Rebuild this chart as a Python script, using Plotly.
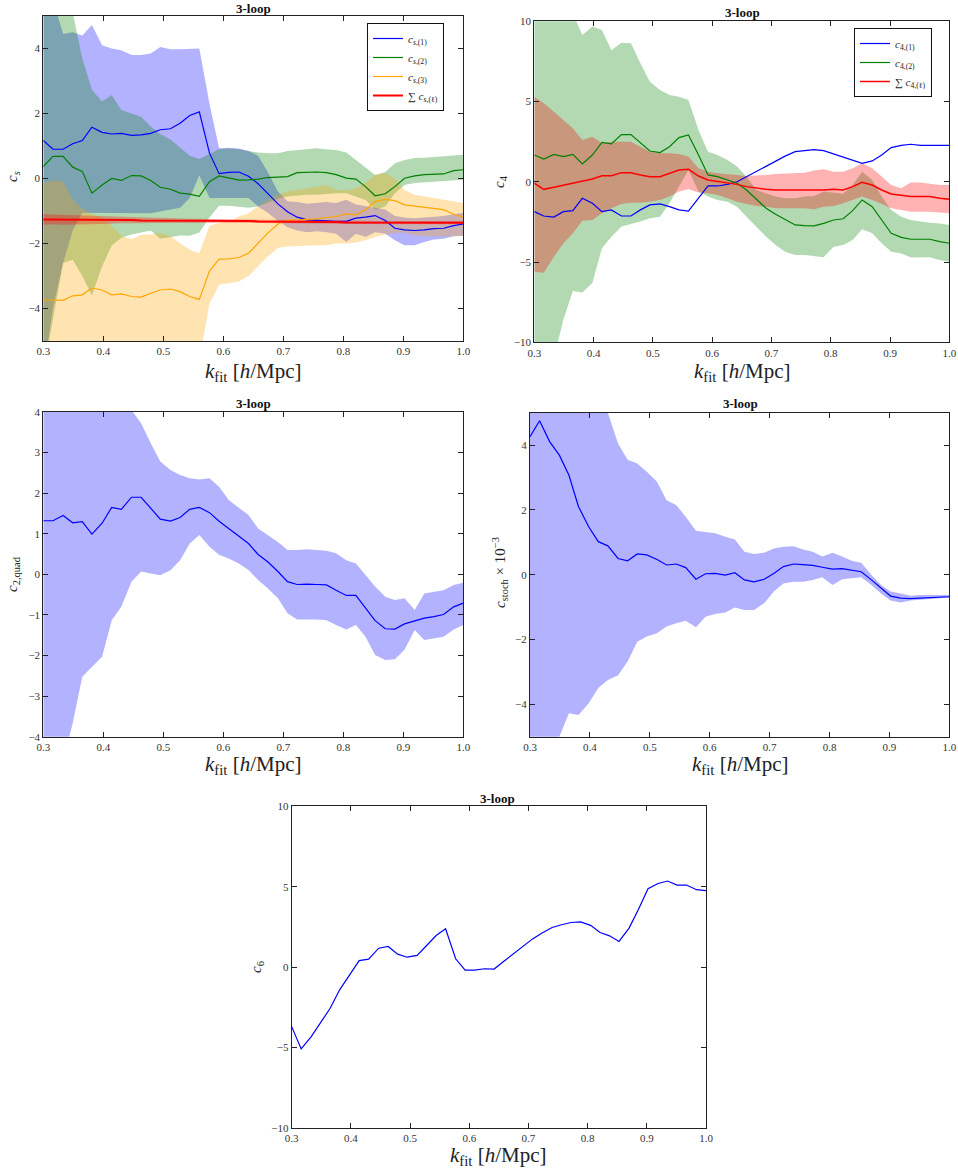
import plotly.graph_objects as go

W, H = 958, 1170
SERIF = "Liberation Serif"

# ---------------- data ----------------
k = [0.300, 0.316, 0.333, 0.349, 0.365, 0.381, 0.398, 0.414, 0.430, 0.447, 0.463,
     0.479, 0.495, 0.512, 0.528, 0.544, 0.560, 0.577, 0.593, 0.609, 0.626, 0.642,
     0.658, 0.674, 0.691, 0.707, 0.723, 0.740, 0.756, 0.772, 0.788, 0.805, 0.821,
     0.837, 0.853, 0.870, 0.886, 0.902, 0.919, 0.935, 0.951, 0.967, 0.984, 1.000]

# panel 1: c_s
cs1 = [1.17, 0.90, 0.90, 1.07, 1.17, 1.58, 1.42, 1.37, 1.39, 1.33, 1.34, 1.39, 1.50, 1.53, 1.70,
       1.94, 2.05, 0.78, 0.15, 0.19, 0.20, 0.07, -0.16, -0.46, -0.78, -1.02, -1.19, -1.27, -1.29,
       -1.32, -1.32, -1.32, -1.22, -1.19, -1.14, -1.29, -1.53, -1.58, -1.60, -1.58, -1.54, -1.53,
       -1.45, -1.40]
cs1_hi = [6.0, 5.5, 4.45, 4.5, 4.4, 4.72, 4.1, 4.0, 3.95, 3.8, 3.8, 3.85, 4.05, 3.98, 3.98, 3.98,
          4.0, 2.3, 0.93, 0.95, 0.92, 0.85, 0.7, 0.2, -0.4, -0.7, -0.72, -0.78, -0.75, -0.72,
          -0.75, -0.65, -0.8, -0.85, -0.88, -0.95, -1.15, -1.2, -1.22, -1.2, -1.18, -1.15, -1.1,
          -1.05]
cs1_lo = [-6.0, -4.0, -2.6, -1.6, -1.05, -1.05, -1.05, -1.07, -1.07, -1.07, -1.07, -1.07, -1.0,
          -0.95, -0.9, -0.6, 0.1, -0.6, -0.58, -0.6, -0.6, -0.6, -0.86, -1.05, -1.3, -1.5, -1.6,
          -1.65, -1.62, -1.65, -1.7, -1.95, -1.7, -1.8, -1.65, -1.7, -1.9, -2.05, -2.05, -1.95,
          -1.88, -1.85, -1.78, -1.76]
cs2 = [0.37, 0.68, 0.68, 0.35, 0.22, -0.45, -0.2, 0.0, -0.06, 0.09, 0.08, -0.06, -0.27, -0.33,
       -0.45, -0.48, -0.55, -0.1, 0.08, 0.01, -0.05, -0.04, -0.02, 0.03, 0.05, 0.06, 0.18, 0.2,
       0.2, 0.18, 0.12, 0.01, -0.02, -0.25, -0.53, -0.47, -0.25, 0.01, 0.08, 0.12, 0.12, 0.14,
       0.24, 0.27]
cs2_hi = [6.5, 6.0, 5.5, 5.1, 3.7, 2.73, 2.37, 2.57, 2.11, 2.0, 1.9, 1.6, 1.36, 1.2, 0.95, 0.7,
          0.6, 0.75, 0.9, 0.92, 0.9, 0.85, 0.8, 0.78, 0.78, 0.85, 0.88, 0.92, 0.93, 0.9, 0.88,
          0.8, 0.57, 0.32, 0.11, 0.2, 0.47, 0.57, 0.63, 0.64, 0.66, 0.68, 0.7, 0.73]
cs2_lo = [-6.0, -4.3, -2.6, -2.5, -3.0, -3.6, -2.7, -2.07, -1.82, -1.72, -1.65, -1.6, -1.85,
          -1.8, -1.75, -1.76, -1.66, -1.2, -0.84, -0.84, -0.86, -0.9, -0.86, -0.75, -0.62,
          -0.55, -0.52, -0.5, -0.5, -0.48, -0.45, -0.45, -0.55, -0.66, -0.96, -0.86, -0.45,
          -0.2, -0.14, -0.12, -0.1, -0.08, -0.06, -0.04]
cs3 = [-3.73, -3.75, -3.75, -3.61, -3.58, -3.37, -3.43, -3.58, -3.55, -3.63, -3.65, -3.53,
       -3.43, -3.40, -3.48, -3.63, -3.72, -2.85, -2.48, -2.47, -2.43, -2.30, -2.00, -1.68,
       -1.40, -1.28, -1.27, -1.26, -1.24, -1.20, -1.17, -1.09, -1.12, -0.96, -0.71, -0.64,
       -0.68, -0.81, -0.85, -0.90, -0.94, -0.96, -1.10, -1.19]
cs3_hi = [-0.15, -0.05, -0.1, -0.64, -0.94, -1.1, -1.2, -1.46, -1.76, -1.87, -1.73, -1.72,
          -1.68, -1.78, -1.99, -2.19, -2.3, -1.45, -1.37, -1.33, -1.17, -1.07, -0.86, -0.66,
          -0.5, -0.4, -0.35, -0.3, -0.25, -0.2, -0.35, -0.35, -0.3, -0.14, 0.11, 0.16, 0.0,
          -0.35, -0.5, -0.55, -0.6, -0.65, -0.7, -0.75]
cs3_lo = [-6.0, -6.0, -6.0, -6.0, -6.0, -6.0, -6.0, -6.0, -6.0, -6.0, -6.0, -6.0, -6.0, -6.0,
          -6.0, -6.0, -5.6, -3.84, -3.27, -3.22, -3.17, -3.0, -2.7, -2.4, -2.14, -2.09, -2.08,
          -2.07, -2.05, -2.05, -2.0, -2.0, -1.97, -1.9, -1.8, -1.72, -1.68, -1.66, -1.75, -1.78,
          -1.78, -1.78, -1.78, -1.78]
cs_sum = [-1.26, -1.26, -1.27, -1.27, -1.27, -1.28, -1.28, -1.28, -1.28, -1.28, -1.29, -1.29,
          -1.29, -1.29, -1.29, -1.30, -1.30, -1.30, -1.30, -1.31, -1.31, -1.31, -1.32, -1.32,
          -1.32, -1.33, -1.33, -1.33, -1.34, -1.34, -1.34, -1.35, -1.35, -1.35, -1.36, -1.36,
          -1.37, -1.37, -1.37, -1.37, -1.36, -1.36, -1.36, -1.36]
cs_sum_hi = [-1.10, -1.11, -1.12, -1.13, -1.14, -1.15, -1.16, -1.17, -1.18, -1.19, -1.20, -1.21,
             -1.22, -1.23, -1.23, -1.24, -1.24, -1.25, -1.25, -1.26, -1.26, -1.26, -1.27, -1.27,
             -1.27, -1.28, -1.28, -1.28, -1.29, -1.29, -1.29, -1.30, -1.30, -1.30, -1.31, -1.31,
             -1.32, -1.32, -1.32, -1.32, -1.31, -1.31, -1.31, -1.31]
cs_sum_lo = [-1.42, -1.41, -1.42, -1.41, -1.40, -1.41, -1.40, -1.39, -1.38, -1.37, -1.38, -1.37,
             -1.36, -1.35, -1.35, -1.36, -1.36, -1.35, -1.35, -1.36, -1.36, -1.36, -1.37, -1.37,
             -1.37, -1.38, -1.38, -1.38, -1.39, -1.39, -1.39, -1.40, -1.40, -1.40, -1.41, -1.41,
             -1.42, -1.42, -1.42, -1.42, -1.41, -1.41, -1.41, -1.41]

# panel 2: c_4
c41 = [-1.86, -2.13, -2.20, -1.86, -1.80, -1.03, -1.34, -1.86, -1.75, -2.13, -2.13, -1.75,
       -1.44, -1.38, -1.55, -1.75, -1.82, -1.03, -0.26, -0.26, -0.16, 0.0, 0.32, 0.63, 0.95,
       1.26, 1.60, 1.88, 1.94, 2.00, 1.94, 1.73, 1.57, 1.36, 1.15, 1.30, 1.67, 2.13, 2.27, 2.34,
       2.27, 2.27, 2.27, 2.27]
c42 = [1.67, 1.42, 1.71, 1.57, 1.71, 1.11, 1.67, 2.46, 2.36, 2.94, 2.94, 2.40, 1.92, 1.82, 2.19,
       2.75, 2.92, 1.67, 0.43, 0.32, 0.11, -0.09, -0.51, -1.09, -1.65, -2.02, -2.32, -2.69,
       -2.73, -2.75, -2.59, -2.38, -2.30, -1.80, -1.13, -1.55, -2.38, -3.21, -3.46, -3.58,
       -3.58, -3.58, -3.73, -3.83]
c42_hi = [12.0, 12.0, 12.0, 11.0, 10.5, 9.15, 9.67, 9.46, 8.2, 8.67, 8.63, 7.38, 6.24, 5.72,
          5.41, 5.3, 5.1, 3.23, 1.88, 1.67, 1.36, 0.95, 0.32, -0.51, -0.72, -0.92, -1.03, -1.03,
          -0.92, -0.88, -0.61, -0.7, -0.74, -0.2, 0.63, 0.11, -0.92, -1.76, -2.17, -2.38, -2.48,
          -2.55, -2.6, -2.69]
c42_lo = [-12.0, -12.0, -11.0, -8.6, -6.8, -6.9, -6.3, -4.14, -3.42, -2.79, -2.63, -2.48, -2.27,
          -2.17, -1.34, -0.3, 0.73, -0.6, -0.92, -1.13, -1.24, -1.55, -2.17, -2.79, -3.42,
          -3.94, -4.36, -4.56, -4.56, -4.62, -4.7, -4.04, -3.94, -3.63, -2.96, -3.21, -3.83,
          -4.36, -4.46, -4.72, -4.7, -4.7, -4.88, -4.98]
c4_sum = [-0.09, -0.47, -0.34, -0.22, -0.09, 0.05, 0.18, 0.38, 0.38, 0.57, 0.57, 0.43, 0.32,
          0.32, 0.53, 0.74, 0.78, 0.36, 0.11, 0.01, -0.05, -0.16, -0.30, -0.40, -0.47, -0.51,
          -0.51, -0.55, -0.55, -0.55, -0.51, -0.47, -0.51, -0.30, -0.03, -0.20, -0.51, -0.76,
          -0.86, -0.92, -0.92, -0.92, -1.03, -1.09]
c4_sum_hi = [5.3, 4.9, 4.37, 3.85, 3.33, 2.6, 2.81, 2.4, 2.5, 2.5, 2.5, 2.19, 1.88, 1.78, 1.78,
             1.73, 1.57, 0.84, 0.63, 0.53, 0.49, 0.43, 0.36, 0.38, 0.43, 0.49, 0.53, 0.53, 0.57,
             0.7, 0.78, 0.63, 0.63, 0.84, 1.15, 0.84, 0.32, -0.2, -0.4, -0.05, -0.05, -0.1,
             -0.2, -0.2]
c4_sum_lo = [-5.6, -5.66, -4.67, -3.83, -3.21, -2.42, -2.38, -1.96, -1.65, -1.38, -1.3, -1.3,
             -1.24, -1.13, -0.92, -0.6, -0.47, -0.67, -0.72, -0.82, -1.03, -1.24, -1.38, -1.5,
             -1.55, -1.65, -1.65, -1.65, -1.65, -1.71, -1.55, -1.5, -1.34, -1.13, -0.92, -1.13,
             -1.38, -1.65, -1.76, -1.86, -1.86, -1.86, -1.92, -1.96]

# panel 3: c_2,quad
c2q = [1.32, 1.32, 1.45, 1.27, 1.30, 0.99, 1.26, 1.65, 1.60, 1.90, 1.90, 1.63, 1.36, 1.31, 1.40,
       1.60, 1.65, 1.52, 1.31, 1.13, 0.93, 0.76, 0.49, 0.31, 0.07, -0.18, -0.25, -0.24, -0.25,
       -0.26, -0.39, -0.52, -0.52, -0.84, -1.14, -1.34, -1.35, -1.22, -1.14, -1.08, -1.04,
       -0.99, -0.80, -0.71]
c2q_hi = [5.0, 5.2, 5.4, 5.5, 5.6, 5.5, 5.3, 5.0, 4.6, 4.05, 3.72, 3.23, 2.78, 2.57, 2.45, 2.37,
          2.34, 2.37, 2.16, 1.83, 1.63, 1.46, 1.13, 0.97, 0.8, 0.6, 0.6, 0.62, 0.6, 0.58, 0.52,
          0.35, 0.27, -0.02, -0.3, -0.55, -0.63, -0.59, -0.88, -0.47, -0.43, -0.39, -0.26, -0.21]
c2q_lo = [-5.0, -5.0, -4.6, -3.67, -2.52, -2.28, -2.03, -1.13, -0.8, -0.18, 0.07, 0.02, -0.02,
          0.1, 0.35, 0.76, 0.97, 0.68, 0.48, 0.39, 0.27, 0.11, -0.14, -0.34, -0.59, -0.96,
          -1.11, -1.11, -1.11, -1.13, -1.25, -1.36, -1.25, -1.54, -1.99, -2.11, -2.09, -1.86,
          -1.37, -1.62, -1.58, -1.54, -1.36, -1.25]

# panel 4: c_stoch x 1e-3
cst = [4.26, 4.75, 4.10, 3.69, 3.07, 2.10, 1.48, 1.02, 0.89, 0.50, 0.43, 0.64, 0.61, 0.47, 0.30,
       0.33, 0.22, -0.14, 0.03, 0.04, -0.01, 0.06, -0.16, -0.22, -0.14, 0.04, 0.25, 0.33, 0.31,
       0.29, 0.23, 0.17, 0.19, 0.13, 0.09, -0.16, -0.42, -0.66, -0.72, -0.74, -0.72, -0.71,
       -0.68, -0.68]
cst_hi = [6.5, 6.8, 6.8, 6.5, 6.3, 6.0, 5.6, 5.3, 5.0, 4.05, 3.55, 3.43, 3.18, 2.87, 2.3, 2.15,
          1.79, 1.36, 1.33, 1.28, 1.17, 1.09, 0.71, 0.64, 0.68, 0.81, 0.86, 0.88, 0.78, 0.71,
          0.56, 0.68, 0.56, 0.43, 0.37, -0.01, -0.32, -0.52, -0.58, -0.65, -0.63, -0.63, -0.63,
          -0.63]
cst_lo = [-7.0, -6.5, -6.0, -5.0, -4.28, -4.33, -3.97, -3.5, -3.25, -3.1, -2.68, -2.07, -1.91,
          -1.81, -1.6, -1.5, -1.42, -1.62, -1.3, -1.21, -1.17, -1.01, -1.09, -1.09, -0.88, -0.52,
          -0.27, -0.22, -0.22, -0.16, -0.08, -0.32, -0.14, -0.11, -0.08, -0.32, -0.58, -0.8,
          -0.86, -0.8, -0.78, -0.76, -0.73, -0.7]

# panel 5: c_6
c6 = [-3.71, -5.10, -4.33, -3.46, -2.57, -1.42, -0.49, 0.40, 0.49, 1.17, 1.28, 0.80, 0.61, 0.72,
      1.34, 1.96, 2.38, 0.51, -0.20, -0.20, -0.11, -0.13, 0.34, 0.80, 1.26, 1.75, 2.11, 2.46,
      2.63, 2.77, 2.81, 2.59, 2.15, 1.94, 1.59, 2.42, 3.60, 4.87, 5.20, 5.35, 5.10, 5.10, 4.81,
      4.75]

x_ticks = [0.3, 0.4, 0.5, 0.6, 0.7, 0.8, 0.9, 1.0]

# ---------------- styles ----------------
BLUE, GREEN, ORANGE, RED = "#0000ff", "#008000", "#ffa500", "#ff0000"
F_BLUE, F_GREEN = "rgba(0,0,255,0.3)", "rgba(0,128,0,0.3)"
F_ORANGE, F_RED = "rgba(255,165,0,0.3)", "rgba(255,0,0,0.3)"

fig = go.Figure()


def band(lo, hi, color, ax):
    fig.add_trace(go.Scatter(
        x=k + k[::-1], y=hi + lo[::-1], fill="toself", fillcolor=color,
        mode="lines", line=dict(width=0, color=color), hoverinfo="skip",
        showlegend=False, xaxis="x" + ax, yaxis="y" + ax))


def curve(y, color, width, ax, name=None, legend="legend"):
    fig.add_trace(go.Scatter(
        x=k, y=y, mode="lines", line=dict(color=color, width=width),
        name=name, showlegend=name is not None, legend=legend,
        xaxis="x" + ax, yaxis="y" + ax))


# panel 1
band(cs1_lo, cs1_hi, F_BLUE, "")
band(cs2_lo, cs2_hi, F_GREEN, "")
band(cs3_lo, cs3_hi, F_ORANGE, "")
band(cs_sum_lo, cs_sum_hi, F_RED, "")
curve(cs1, BLUE, 1.2, "", "<i>c</i><sub><i>s</i>,(1)</sub>")
curve(cs2, GREEN, 1.2, "", "<i>c</i><sub><i>s</i>,(2)</sub>")
curve(cs3, ORANGE, 1.2, "", "<i>c</i><sub><i>s</i>,(3)</sub>")
curve(cs_sum, RED, 2.0, "", "∑ <i>c</i><sub><i>s</i>,(ℓ)</sub>")

# panel 2
band(c42_lo, c42_hi, F_GREEN, "2")
band(c4_sum_lo, c4_sum_hi, F_RED, "2")
curve(c41, BLUE, 1.2, "2", "<i>c</i><sub>4,(1)</sub>", "legend2")
curve(c42, GREEN, 1.2, "2", "<i>c</i><sub>4,(2)</sub>", "legend2")
curve(c4_sum, RED, 1.5, "2", "∑ <i>c</i><sub>4,(ℓ)</sub>", "legend2")

# panel 3
band(c2q_lo, c2q_hi, F_BLUE, "3")
curve(c2q, BLUE, 1.2, "3")

# panel 4
band(cst_lo, cst_hi, F_BLUE, "4")
curve(cst, BLUE, 1.2, "4")

# panel 5
curve(c6, BLUE, 1.2, "5")

# ---------------- layout ----------------
panels = [
    # (suffix, left, right, top, bottom, yrange, yticks)
    ("", 43.3, 463.3, 16.0, 341.0, [-5, 5], [-4, -2, 0, 2, 4]),
    ("2", 534.3, 949.3, 21.3, 342.3, [-10, 10], [-10, -5, 0, 5, 10]),
    ("3", 43.3, 463.3, 412.0, 736.7, [-4, 4], [-4, -3, -2, -1, 0, 1, 2, 3, 4]),
    ("4", 530.0, 949.3, 412.7, 736.7, [-5, 5], [-4, -2, 0, 2, 4]),
    ("5", 291.7, 706.0, 806.3, 1127.7, [-10, 10], [-10, -5, 0, 5, 10]),
]

tickfont = dict(family=SERIF, size=11, color="#333333")
common = dict(showline=True, linecolor="#222222", linewidth=1, mirror="ticks",
              ticks="inside", ticklen=5, tickwidth=1, tickcolor="#222222",
              showgrid=False, zeroline=False, tickfont=tickfont, automargin=False)


def num(v):
    s = ("%g" % v)
    return s.replace("-", "−")


layout = dict(width=W, height=H,
              margin=dict(l=0, r=0, t=0, b=0, pad=0, autoexpand=False),
              paper_bgcolor="white", plot_bgcolor="white", autosize=False,
              font=dict(family=SERIF, color="#222222"))

for suf, l, r, t, b, yr, yt in panels:
    layout["xaxis" + suf] = dict(
        domain=[l / W, r / W], range=[0.3, 1.0], anchor="y" + suf,
        tickvals=x_ticks, ticktext=["%.1f" % v for v in x_ticks], **common)
    layout["yaxis" + suf] = dict(
        domain=[1 - b / H, 1 - t / H], range=yr, anchor="x" + suf,
        tickvals=yt, ticktext=[num(v) for v in yt], **common)

layout["legend"] = dict(x=367 / W, y=1 - 23 / H, xanchor="left", yanchor="top",
                        bgcolor="white", bordercolor="#111111", borderwidth=1,
                        font=dict(family=SERIF, size=11, color="#222222"),
                        itemwidth=30, tracegroupgap=0)
layout["legend2"] = dict(x=854 / W, y=1 - 28 / H, xanchor="left", yanchor="top",
                         bgcolor="white", bordercolor="#111111", borderwidth=1,
                         font=dict(family=SERIF, size=11, color="#222222"),
                         itemwidth=30, tracegroupgap=0)

fig.update_layout(**layout)

# titles & axis labels
titles = [(253, 9), (742, 13), (253, 403), (740, 403), (498, 798)]
ylabels = [
    ("<i>c</i><sub><i>s</i></sub>", 13, 177),
    ("<i>c</i><sub>4</sub>", 500, 182),
    ("<i>c</i><sub>2,quad</sub>", 13, 574),
    ("<i>c</i><sub>stoch</sub> × 10<sup>−3</sup>", 500, 573),
    ("<i>c</i><sub>6</sub>", 257, 967),
]
xlabels = [(253, 372), (742, 372), (253, 765), (740, 765), (498, 1156)]
xlabel_text = "<i>k</i><sub>fit</sub> [<i>h</i>/Mpc]"

for (px, py) in titles:
    fig.add_annotation(text="<b>3-loop</b>", x=px / W, y=1 - py / H, xref="paper",
                       yref="paper", showarrow=False, xanchor="center", yanchor="middle",
                       font=dict(family=SERIF, size=13, color="#111111"))
for (txt, px, py) in ylabels:
    fig.add_annotation(text=txt, x=px / W, y=1 - py / H, xref="paper", yref="paper",
                       showarrow=False, textangle=-90, xanchor="center", yanchor="middle",
                       font=dict(family=SERIF, size=15, color="#222222"))
for (px, py) in xlabels:
    fig.add_annotation(text=xlabel_text, x=px / W, y=1 - py / H, xref="paper", yref="paper",
                       showarrow=False, xanchor="center", yanchor="middle",
                       font=dict(family=SERIF, size=21, color="#222222"))

# remove the browser's default 8px page margin so the figure fills the window exactly
fig.write_html("out.html",
               config={"displayModeBar": False},
               post_script="document.body.style.margin='0';"
                           "document.body.style.padding='0';"
                           "document.documentElement.style.overflow='hidden';")
